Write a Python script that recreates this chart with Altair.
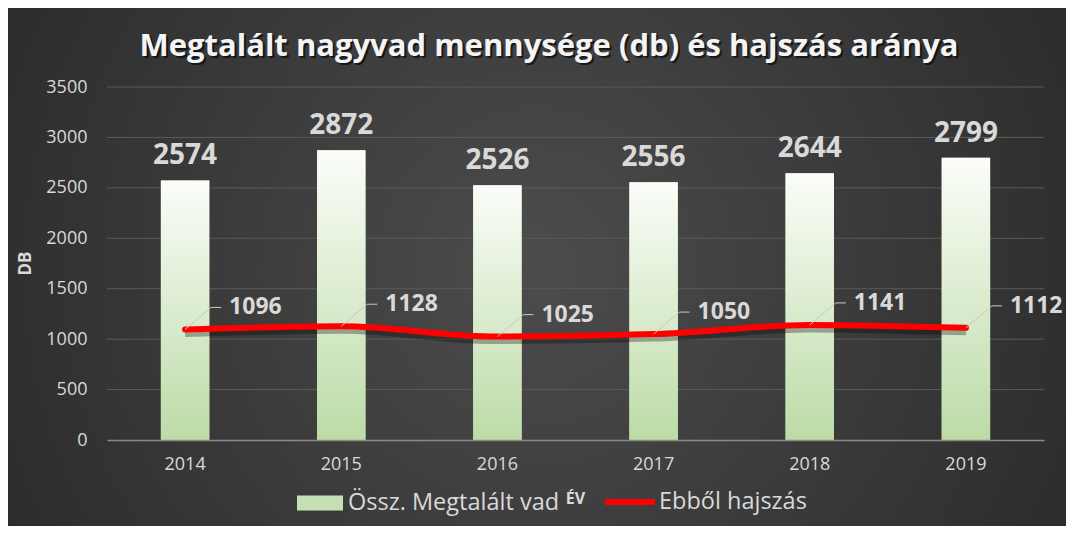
import altair as alt
import pandas as pd

years = ["2014", "2015", "2016", "2017", "2018", "2019"]
total_found = [2574, 2872, 2526, 2556, 2644, 2799]
chased = [1096, 1128, 1025, 1050, 1141, 1112]
y_ticks = [0, 500, 1000, 1500, 2000, 2500, 3000, 3500]

title_text = "Megtalált nagyvad mennysége (db) és hajszás aránya"
bar_name = "Össz. Megtalált vad"
line_name = "Ebből hajszás"

df = pd.DataFrame({"year": years, "total": total_found, "chased": chased})
grid_df = pd.DataFrame({"v": y_ticks[1:]})

FONT = "Open Sans"
TXT = "#d9d9d9"

x_enc = alt.X(
    "year:N",
    sort=years,
    scale=alt.Scale(paddingInner=0.69, paddingOuter=0.345),
    axis=alt.Axis(
        title="ÉV", labelAngle=0, labelColor=TXT, labelFont=FONT, labelFontSize=18,
        labelPadding=15, ticks=False, tickSize=0, domain=True, domainColor="#8a8a8a",
        domainWidth=1.5, grid=False, titleColor=TXT, titleFont=FONT, titleFontSize=16,
        titleFontWeight="bold", titleX=468, titleY=58, titleAlign="center",
        titleBaseline="middle", zindex=1,
    ),
)
y_scale = alt.Scale(domain=[0, 3500])
y_enc = alt.Y(
    "total:Q",
    scale=y_scale,
    axis=alt.Axis(
        title="DB", values=y_ticks, format="d", labelColor=TXT, labelFont=FONT,
        labelFontSize=18, labelPadding=20, ticks=False, tickSize=0, domain=False,
        grid=False, titleColor=TXT, titleFont=FONT, titleFontSize=17,
        titleFontWeight="bold", titleX=-82, titleY=176, titleAlign="center",
        titleBaseline="middle", zindex=1,
    ),
)

bg = alt.Chart(alt.Data(values=[{}])).mark_rect(
    fill=alt.RadialGradient(
        gradient="radial", x1=0.5, y1=0.5, r1=0, x2=0.5, y2=0.5, r2=0.72,
        stops=[alt.GradientStop(offset=0, color="#4c4c4c"),
               alt.GradientStop(offset=1, color="#232323")],
    )
).encode(x=alt.value(-99), x2=alt.value(959), y=alt.value(-79), y2=alt.value(439))

title_shadow = alt.Chart(alt.Data(values=[{"t": title_text}])).mark_text(
    font=FONT, fontSize=31, fontWeight="bold", color="#000000", opacity=0.6,
    baseline="middle", align="center"
).encode(x=alt.value(444), y=alt.value(-38), text="t:N")

title = alt.Chart(alt.Data(values=[{"t": title_text}])).mark_text(
    font=FONT, fontSize=31, fontWeight="bold", color="#f4f4f4",
    baseline="middle", align="center"
).encode(x=alt.value(442), y=alt.value(-40), text="t:N")

grid = alt.Chart(grid_df).mark_rule(color="#5a5a5a", strokeWidth=1).encode(
    y=alt.Y("v:Q", scale=y_scale)
)

base = alt.Chart(df)

bars_legend = base.mark_bar().encode(
    x=x_enc, y=y_enc,
    fill=alt.Fill("n:N", scale=alt.Scale(domain=[bar_name], range=["#c5e0b4"]),
                  legend=alt.Legend(title=None, orient="none", legendX=190, legendY=393,
                                    symbolType="M-1,-0.33H1V0.33H-1Z", symbolSize=2116,
                                    symbolStrokeWidth=0, labelFontSize=23.5, labelFont=FONT,
                                    labelColor=TXT, labelOffset=5, labelLimit=400,
                                    zindex=1)),
).transform_calculate(n=f"'{bar_name}'")

bars = base.mark_bar(
    color=alt.LinearGradient(
        gradient="linear", x1=0, x2=0, y1=0, y2=1,
        stops=[alt.GradientStop(offset=0, color="#fbfdf9"),
               alt.GradientStop(offset=1, color="#bcdba6")],
    )
).encode(x=x_enc, y=y_enc)

bar_labels = base.mark_text(
    font=FONT, fontSize=28, fontWeight="bold", color=TXT, baseline="alphabetic", dy=-16
).encode(x=x_enc, y=y_enc, text="total:Q")

shadow = base.mark_line(
    color="#000000", strokeWidth=7, opacity=0.3, interpolate="monotone", yOffset=4
).encode(x=x_enc, y=alt.Y("chased:Q", scale=y_scale))

line = base.mark_line(strokeWidth=6, interpolate="monotone", strokeCap="round").encode(
    x=x_enc,
    y=alt.Y("chased:Q", scale=y_scale),
    stroke=alt.Stroke("n:N", scale=alt.Scale(domain=[line_name], range=["#ff0000"]),
                      legend=alt.Legend(title=None, orient="none", legendX=495, legendY=387,
                                        symbolType="stroke", symbolSize=2500,
                                        symbolStrokeWidth=6, labelFontSize=23.5,
                                        labelFont=FONT, labelColor=TXT, labelOffset=1,
                                        labelLimit=400, zindex=1)),
).transform_calculate(n=f"'{line_name}'")

leader1 = base.mark_rule(color="#c8c8c8", strokeWidth=1, x2Offset=26, y2Offset=-22).encode(
    x=x_enc, x2="year:N", y=alt.Y("chased:Q", scale=y_scale), y2="chased:Q"
)
leader2 = base.mark_rule(color="#c8c8c8", strokeWidth=1, xOffset=26, x2Offset=36,
                         yOffset=-22, y2Offset=-22).encode(
    x=x_enc, x2="year:N", y=alt.Y("chased:Q", scale=y_scale), y2="chased:Q"
)

line_labels = base.mark_text(
    font=FONT, fontSize=23, fontWeight="bold", color=TXT, align="left",
    baseline="middle", dx=44, dy=-22
).encode(x=x_enc, y=alt.Y("chased:Q", scale=y_scale), text="chased:Q")

chart = alt.layer(
    bg, title_shadow, title, grid, bars_legend, bars, bar_labels, shadow, line,
    leader1, leader2, line_labels
).properties(
    width=937, height=353,
    autosize=alt.AutoSizeParams(type="none"),
    padding={"left": 99, "top": 79, "right": 22, "bottom": 86},
    background="#2e2e2e",
).configure_view(stroke=None)

chart.save("out.html", embed_options={"renderer": "svg", "actions": False})
